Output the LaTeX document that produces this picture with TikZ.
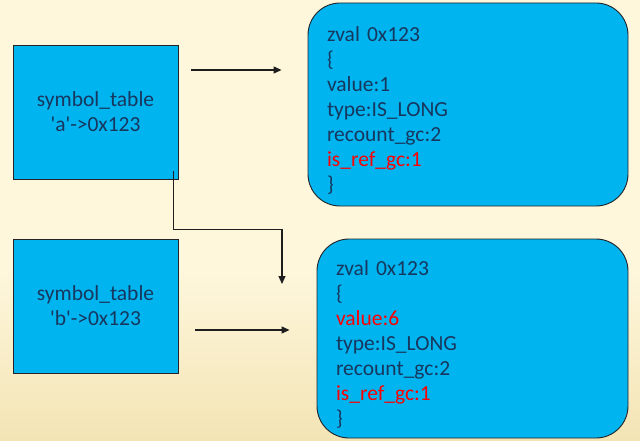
\documentclass[tikz,border=0pt]{standalone}
\usepackage{fontspec}
\setmainfont{Carlito}
\usepackage{xcolor}
\usepackage{tikz}
\usetikzlibrary{arrows.meta,positioning,calc}

\definecolor{boxblue}{RGB}{0,180,240}
\definecolor{boxedge}{RGB}{35,35,40}
\definecolor{textnavy}{RGB}{23,55,94}
\definecolor{linegray}{RGB}{30,30,30}
\definecolor{bgcream}{RGB}{254,247,220}
\definecolor{bgsand}{RGB}{243,228,180}

\newcommand{\zvfont}{\fontsize{21.5}{25}\selectfont}

\begin{document}
\begin{tikzpicture}[
    x=1pt, y=-1pt,
    symbox/.style={
        rectangle,
        draw=boxedge,
        fill=boxblue,
        line width=0.9pt,
        minimum width=165pt,
        minimum height=134pt,
        align=center,
        text=textnavy,
        font=\zvfont
    },
    zvalbox/.style={
        rectangle,
        rounded corners=32pt,
        draw=boxedge,
        fill=boxblue,
        line width=0.9pt
    },
    zvaltext/.style={
        align=left,
        inner sep=0pt,
        text=textnavy,
        font=\zvfont
    },
    arrow/.style={
        -{Triangle[length=8pt,width=7pt]},
        line width=1.1pt,
        draw=linegray
    }
]

% =========================
% Background
% =========================

\fill[bgcream] (0,0) rectangle (640,441);
\shade[top color=bgcream, bottom color=bgsand] (0,270) rectangle (640,441);
\useasboundingbox (0,0) rectangle (640,441);

% =========================
% Symbol tables
% =========================

\node[symbox] (symA) at (95.5,112)
{symbol\_table\\\textquotesingle a\textquotesingle->0x123};

\node[symbox] (symB) at (95.5,306)
{symbol\_table\\\textquotesingle b\textquotesingle->0x123};

% =========================
% zval containers
% =========================

\node[zvalbox, minimum width=320pt, minimum height=203pt] (zvalA) at (468,104.5) {};

\node[zvaltext, text width=282pt] (zvalAtxt) at ([yshift=-6pt]zvalA.center)
{zval 0x123\\
{\{}\\
value:1\\
type:IS\_LONG\\
recount\_gc:2\\
\textcolor{red}{is\_ref\_gc:1}\\
{\}}};

\node[zvalbox, minimum width=311pt, minimum height=199pt] (zvalB) at (472.5,338.5) {};

\node[zvaltext, text width=273pt] (zvalBtxt) at ([yshift=-6pt]zvalB.center)
{zval 0x123\\
{\{}\\
\textcolor{red}{value:6}\\
type:IS\_LONG\\
recount\_gc:2\\
\textcolor{red}{is\_ref\_gc:1}\\
{\}}};

% =========================
% Pointers
% =========================

\coordinate (rowA) at (0,70);
\coordinate (rowB) at (0,330);
\coordinate (elbowEnd) at (282,284);

\draw[arrow, shorten <=13pt, shorten >=26pt] (symA.east |- rowA) -- (zvalA.west |- rowA);

\draw[arrow, shorten <=17pt, shorten >=27pt] (symB.east |- rowB) -- (zvalB.west |- rowB);

\draw[arrow]
([shift={(-5,-8)}]symA.south east)
-- ++(0,58)
-| (elbowEnd);

\end{tikzpicture}
\end{document}
